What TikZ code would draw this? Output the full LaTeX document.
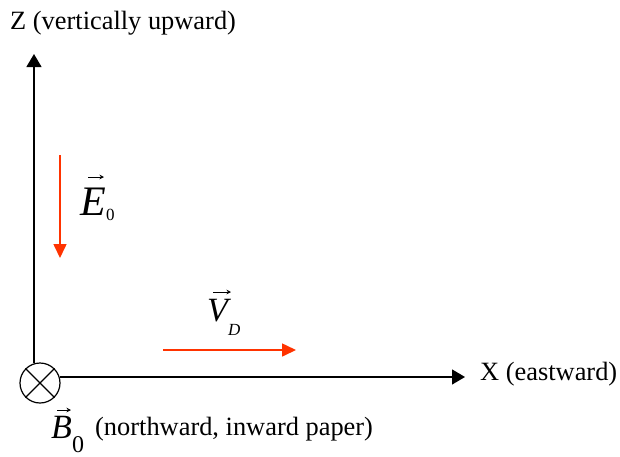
\documentclass[tikz,border=0pt]{standalone}
\usepackage{fontspec}
\setmainfont{Liberation Serif}
\usetikzlibrary{arrows.meta}
\definecolor{vecred}{HTML}{FF3300}
\tikzset{
  axis/.style={line width=1.3pt, -{Triangle[length=13pt,width=15pt]}},
  redvec/.style={vecred, line width=1.6pt, -{Triangle[length=14pt,width=13pt]}},
  accent/.style={line width=0.9pt, -{Stealth[length=4.5pt,width=4.5pt]}},
  lbl/.style={inner sep=0pt, anchor=base west, font=\fontsize{26.4}{28}\selectfont},
  mlbl/.style={inner sep=0pt, anchor=base west},
}
\begin{document}
\begin{tikzpicture}[x=1pt,y=-1pt]
\useasboundingbox (0,0) rectangle (620,456);
% origin circle with cross
\node[draw, circle, line width=1.2pt, minimum size=40pt, inner sep=0pt] (circ) at (40,383) {};
\draw[line width=1.2pt] (circ.45) -- (circ.225) (circ.135) -- (circ.315);
% axes
\coordinate (zt) at (34,54);
\coordinate (xt) at (465,377);
\draw[axis] (circ.107) -- (circ.107 |- zt);
\draw[axis] (circ.17) -- (circ.17 -| xt);
% axis labels
\node[lbl] (zlab) at (10,29) {Z (vertically upward)};
\node[lbl] (xlab) at (480,380) {X (eastward)};
\node[lbl] (blab) at (95,435) {(northward, inward paper)};
% red vectors
\coordinate (e1) at (60,155);
\coordinate (e2) at (60,258);
\coordinate (v1) at (163,350);
\coordinate (v2) at (296,350);
\draw[redvec] (e1) -- (e2);
\draw[redvec] (v1) -- (v2);
% vector labels
\node[mlbl, font=\fontsize{42}{42}\selectfont\itshape] (elab) at (80,215) {E};
\node[mlbl, font=\fontsize{17}{17}\selectfont] (esub) at (106,220) {0};
\node[mlbl, font=\fontsize{34}{34}\selectfont\itshape] (vlab) at (207,321) {V};
\node[mlbl, font=\fontsize{17}{17}\selectfont\itshape] (vsub) at (228,335) {D};
\node[mlbl, font=\fontsize{34}{34}\selectfont\itshape] (bvlab) at (51,438) {B};
\node[mlbl, font=\fontsize{24}{24}\selectfont] (bsub) at (72,452) {0};
% accent arrows over the vector letters
\coordinate (ea1) at (88,177); \coordinate (ea2) at (104,177);
\coordinate (va1) at (213,292); \coordinate (va2) at (231,292);
\coordinate (ba1) at (57,410); \coordinate (ba2) at (71,410);
\draw[accent] (ea1) -- (ea2);
\draw[accent] (va1) -- (va2);
\draw[accent] (ba1) -- (ba2);
\end{tikzpicture}
\end{document}
